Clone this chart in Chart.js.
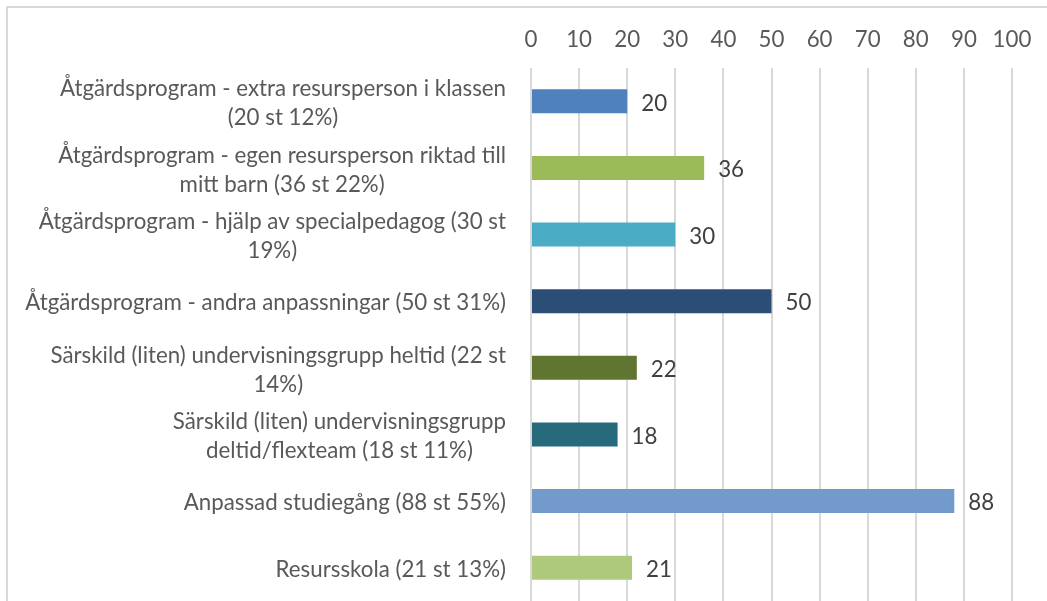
<!DOCTYPE html>
<html>
<head>
<meta charset="utf-8">
<script src="https://cdn.jsdelivr.net/npm/chart.js@4.4.0/dist/chart.umd.min.js"></script>
<style>
  html, body { margin: 0; padding: 0; background: #fff; overflow: hidden; }
  #wrap { width: 1047px; height: 601px; position: relative; }
</style>
</head>
<body>
<div id="wrap"><canvas id="chart" width="1047" height="601"></canvas></div>
<script>
const categories = [
  ['Åtgärdsprogram - extra resursperson i klassen', '(20 st 12%)'],
  ['Åtgärdsprogram - egen resursperson riktad till', 'mitt barn (36 st 22%)'],
  ['Åtgärdsprogram - hjälp av specialpedagog (30 st', '19%)'],
  ['Åtgärdsprogram - andra anpassningar (50 st 31%)'],
  ['Särskild (liten) undervisningsgrupp heltid (22 st', '14%)'],
  ['Särskild (liten) undervisningsgrupp', 'deltid/flexteam (18 st 11%)'],
  ['Anpassad studiegång (88 st 55%)'],
  ['Resursskola (21 st 13%)']
];
const values = [20, 36, 30, 50, 22, 18, 88, 21];
const barColors = ['#4F81BD', '#9BBB59', '#4BACC6', '#2C4D75', '#5F7530', '#276A7C', '#729ACA', '#AFC97A'];
const xMin = 0;
const xMax = 100;
const xStep = 10;

const FONT = 'Lato';
const FONT_SIZE = 22.3;
const labelFont = FONT_SIZE + 'px ' + FONT;

// value labels next to the bars
const valueLabels = {
  id: 'valueLabels',
  afterDatasetsDraw(chart) {
    const ctx = chart.ctx;
    ctx.save();
    ctx.font = labelFont;
    ctx.fillStyle = '#404040';
    ctx.textBaseline = 'middle';
    ctx.textAlign = 'left';
    chart.getDatasetMeta(0).data.forEach((bar, i) => {
      ctx.fillText(values[i], bar.x + 14, bar.y + 2);
    });
    ctx.restore();
  }
};

// category labels, lines centred within a right-aligned block (like Excel)
const categoryLabels = {
  id: 'categoryLabels',
  afterDraw(chart) {
    const ctx = chart.ctx;
    const y = chart.scales.y;
    const right = 506;
    const lineH = 29;
    ctx.save();
    ctx.font = labelFont;
    ctx.fillStyle = '#595959';
    ctx.textBaseline = 'middle';
    ctx.textAlign = 'center';
    categories.forEach((lines, i) => {
      const cy = y.getPixelForValue(i) + 2;
      const w = Math.max(...lines.map(l => ctx.measureText(l).width));
      lines.forEach((l, j) => {
        ctx.fillText(l, right - w / 2, cy + (j - (lines.length - 1) / 2) * lineH);
      });
    });
    ctx.restore();
  }
};

// light frame around the chart
const frame = {
  id: 'frame',
  beforeDraw(chart) {
    const ctx = chart.ctx;
    ctx.save();
    ctx.strokeStyle = '#d9d9d9';
    ctx.lineWidth = 2;
    ctx.beginPath();
    ctx.moveTo(7, 650);
    ctx.lineTo(7, 7);
    ctx.lineTo(1100, 7);
    ctx.stroke();
    ctx.restore();
  }
};

new Chart(document.getElementById('chart'), {
  type: 'bar',
  data: {
    labels: categories,
    datasets: [{
      data: values,
      backgroundColor: barColors,
      borderWidth: 0,
      categoryPercentage: 1,
      barPercentage: 0.36
    }]
  },
  options: {
    indexAxis: 'y',
    responsive: false,
    animation: false,
    layout: { padding: { left: 0, right: 35, top: 0, bottom: 0 } },
    plugins: { legend: { display: false }, tooltip: { enabled: false } },
    scales: {
      x: {
        position: 'top',
        min: xMin,
        max: xMax,
        ticks: { stepSize: xStep, color: '#595959', font: { family: FONT, size: FONT_SIZE }, padding: 15 },
        grid: { color: '#d9d9d9', lineWidth: 2, drawTicks: false },
        border: { display: false },
        afterFit(scale) { scale.height = 68; }
      },
      y: {
        ticks: { display: false },
        grid: { display: false },
        border: { display: false },
        afterFit(scale) { scale.width = 531; }
      }
    }
  },
  plugins: [frame, valueLabels, categoryLabels]
});
</script>
</body>
</html>
